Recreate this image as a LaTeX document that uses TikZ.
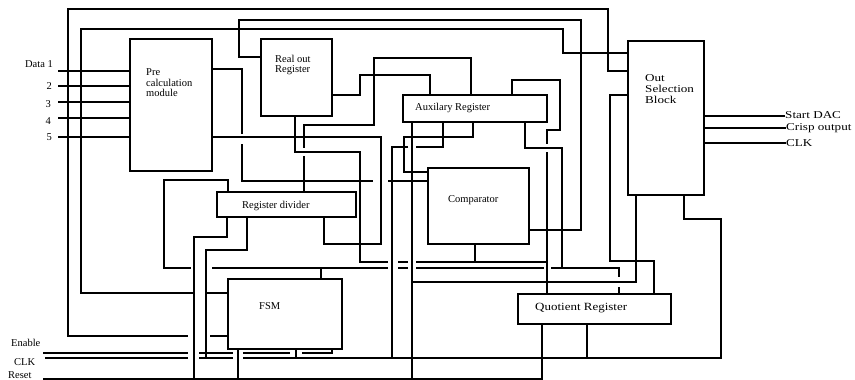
\documentclass[tikz,border=0pt]{standalone}
\usepackage{fontspec}
\setmainfont{Liberation Serif}
\newfontfamily\widefont[FakeStretch=1.25]{Liberation Serif}
\newfontfamily\midfont[FakeStretch=1.18]{Liberation Serif}
\begin{document}
\begin{tikzpicture}[x=1pt,y=-1pt,
  blk/.style={draw, line width=2.6pt, inner sep=0pt, outer sep=0pt},
  wire/.style={line width=1.1pt},
  bus/.style={line width=2.4pt},
  txt/.style={inner sep=0pt, anchor=west, align=left, font=\fontsize{10.5}{10.5}\selectfont},
  big/.style={inner sep=0pt, anchor=west, align=left, font=\widefont\fontsize{10.5}{11}\selectfont}]
\useasboundingbox (0,0) rectangle (855,380);
% blocks
\node[blk, minimum width=82pt, minimum height=132pt] (pre) at (171,105) {};
\node[blk, minimum width=71pt, minimum height=77pt] (real) at (296.5,77.5) {};
\node[blk, minimum width=144pt, minimum height=27pt] (aux) at (475,108.5) {};
\node[blk, minimum width=101pt, minimum height=76pt] (comp) at (478.5,206) {};
\node[blk, minimum width=139pt, minimum height=25pt] (div) at (286.5,204.5) {};
\node[blk, minimum width=114pt, minimum height=70pt] (fsm) at (285,314) {};
\node[blk, minimum width=153pt, minimum height=30pt] (quot) at (594.5,309) {};
\node[blk, minimum width=76pt, minimum height=154pt] (osb) at (666,118) {};
% block texts
\node[txt] (preT) at (146,83) {Pre\\calculation\\module};
\node[txt] (realT) at (275,65) {Real out\\Register};
\node[txt] (auxT) at (415,108) {Auxilary Register};
\node[txt] (compT) at (448,200) {Comparator};
\node[txt] (divT) at (242,206) {Register divider};
\node[txt] (fsmT) at (259,306) {FSM};
\node[big, font=\midfont\fontsize{11}{11}\selectfont] (quotT) at (535,308) {Quotient Register};
\node[big] (osbT) at (645,89) {Out\\Selection\\Block};
% input labels
\node[txt, anchor=east] (d1) at (53,64) {Data 1};
\node[txt, anchor=east] (d2) at (52,86) {2};
\node[txt, anchor=east] (d3) at (51,104) {3};
\node[txt, anchor=east] (d4) at (51,121) {4};
\node[txt, anchor=east] (d5) at (52,137) {5};
\node[txt] (en) at (11,343) {Enable};
\node[txt] (clk) at (14,362) {CLK};
\node[txt] (rst) at (8,375) {Reset};
% output labels
\node[big] (o1) at (785,115.5) {Start DAC};
\node[big] (o2) at (786,128) {Crisp output};
\node[big] (o3) at (786,143) {CLK};
% outputs
\draw[wire] (osb.east |- 0,116) -- (o1.west |- 0,116);
\draw[bus] (osb.east |- 0,128) -- (o2.west);
\draw[wire] (osb.east |- 0,143) -- (o3.west);
% data inputs
\foreach \yy in {71,86,102,118,137} \draw[bus] (58,\yy) -- (pre.west |- 0,\yy);
% thick connections
\draw[bus] (pre.east |- 0,137) -- (381,137) -- (381,244) -- (324,244) -- (324,0 |- div.south);
\draw[bus] (pre.east |- 0,69) -- (242,69) -- (242,134) (242,144) -- (242,181) -- (373,181) (388,181) -- (comp.west |- 0,181);
\draw[bus] (real.west |- 0,57) -- (239,57) -- (239,20) -- (581,20) -- (581,230) -- (comp.east |- 0,230);
\draw[bus] (real.east |- 0,95) -- (360,95) -- (360,75) -- (430,75) -- (430,0 |- aux.north);
\draw[bus] (473,0 |- aux.south) -- (473,137) -- (404,137) -- (404,172) -- (comp.west |- 0,172);
\draw[bus] (osb.west |- 0,95) -- (610,95) -- (610,261) -- (654,261) -- (654,0 |- quot.north);
% thin connections
\draw[wire] (471,0 |- aux.north) -- (471,58) -- (374,58) -- (374,125) -- (304,125) -- (304,148) (304,156) -- (304,0 |- div.north);
\draw[wire] (295,0 |- real.south) -- (295,152) -- (360,152) -- (360,262) -- (388,262) (398,262) -- (408,262) (416,262) -- (547,262);
\draw[wire] (475,0 |- comp.south) -- (475,262);
\draw[wire] (228,0 |- div.north) -- (228,180) -- (164,180) -- (164,268) -- (191,268) (212,268) -- (388,268) (398,268) -- (408,268) (416,268) -- (544,268) (551,268) -- (619,268) -- (619,277) (619,287) -- (619,0 |- quot.north);
\draw[wire] (321,0 |- fsm.north) -- (321,268);
\draw[wire] (512,0 |- aux.north) -- (512,80) -- (560,80) -- (560,130) -- (547,130) -- (547,144) (547,152) -- (547,0 |- quot.north);
\draw[wire] (525,0 |- aux.south) -- (525,148) -- (562,148) -- (562,268);
\draw[wire] (412,0 |- aux.south) -- (412,379);
\draw[wire] (443,0 |- aux.south) -- (443,147) -- (416,147) (408,147) -- (392,147) -- (392,358);
\draw[wire] (636,0 |- osb.south) -- (636,282) -- (412,282);
\draw[wire] (osb.west |- 0,71) -- (608,71) -- (608,9) -- (68,9) -- (68,336) -- (188,336) (210,336) -- (fsm.west |- 0,336);
\draw[wire] (osb.west |- 0,53) -- (563,53) -- (563,29) -- (81,29) -- (81,293) -- (194,293);
\draw[wire] (227,0 |- div.south) -- (227,237) -- (194,237) -- (194,379);
\draw[wire] (247,0 |- div.south) -- (247,250) -- (206,250) -- (206,358) (206,293) -- (fsm.west |- 0,293);
% enable, clk, reset buses
\draw[wire] (43,353) -- (188,353) (199,353) -- (233,353) (243,353) -- (290,353) (302,353) -- (332,353) -- (332,0 |- fsm.south);
\draw[wire] (45,358) -- (188,358) (199,358) -- (233,358) (243,358) -- (721,358) -- (721,219) -- (684,219) -- (684,0 |- osb.south);
\draw[wire] (296,0 |- fsm.south) -- (296,358);
\draw[wire] (238,0 |- fsm.south) -- (238,379);
\draw[wire] (43,379) -- (542,379) -- (542,0 |- quot.south);
\draw[wire] (587,0 |- quot.south) -- (587,358);
\end{tikzpicture}
\end{document}
